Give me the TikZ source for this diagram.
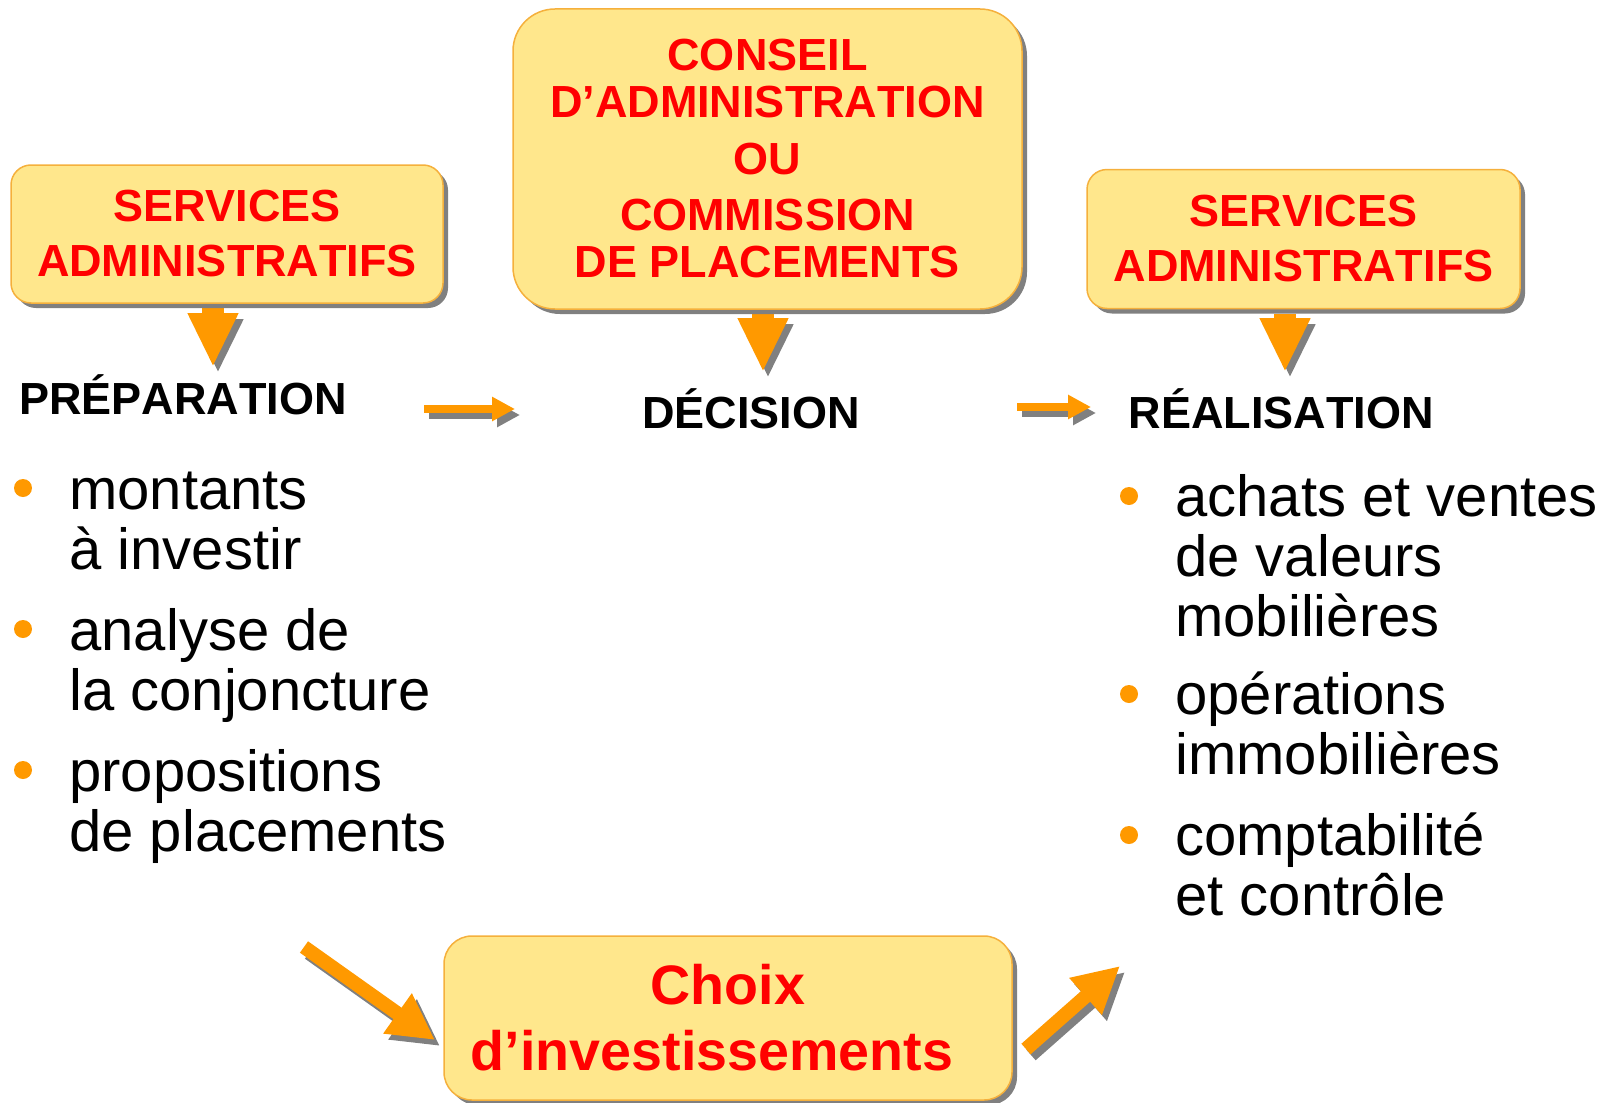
\documentclass[tikz,border=0pt]{standalone}
\usepackage{fontspec}
\setmainfont{Liberation Sans}[Kerning=Off]
\usetikzlibrary{arrows.meta,shadows}

\definecolor{boxfill}{RGB}{255,231,140}
\definecolor{boxline}{RGB}{245,176,60}
\definecolor{titlered}{RGB}{255,0,0}
\definecolor{arrowor}{RGB}{255,153,0}
\definecolor{shadowgrey}{RGB}{128,128,128}

\tikzset{
  panel/.style={draw=boxline, line width=0.75pt, fill=boxfill, text=titlered,
    align=center, inner sep=0pt,
    font=\fontsize{22.5pt}{27.5pt}\selectfont\bfseries,
    drop shadow={shadow xshift=2.5pt, shadow yshift=-2.5pt, fill=shadowgrey, opacity=1}},
  stage/.style={font=\fontsize{22.5pt}{27pt}\selectfont\bfseries, inner sep=0pt},
  itemtext/.style={font=\fontsize{29pt}{30pt}\selectfont, inner sep=0pt, anchor=base west},
  bulletdot/.style={fill=arrowor, draw=none},
  bigdown/.style={line width=11pt, -{Triangle[width=23.5pt,length=27pt]}},
  flowarrow/.style={line width=4pt, -{Triangle[width=11.5pt,length=11.5pt]}},
  slantarrow/.style={line width=7pt, -{Triangle[width=23pt,length=23pt]}},
}

% block arrow with a grey drop shadow
\newcommand\shadedarrow[3]{%
  \draw[#1, draw=shadowgrey, fill=shadowgrey, transform canvas={shift={(2.5pt,-3pt)}}] (#2) -- (#3);
  \draw[#1, draw=arrowor, fill=arrowor] (#2) -- (#3);}

\begin{document}
\begin{tikzpicture}[x=0.5pt, y=-0.5pt]
\useasboundingbox (0,0) rectangle (1620,1102);

% arrow end points
\coordinate (a1s) at (213,308);  \coordinate (a1e) at (213,367);
\coordinate (a2s) at (763,314);  \coordinate (a2e) at (763,372);
\coordinate (a3s) at (1285,314); \coordinate (a3e) at (1285,372);
\coordinate (h1s) at (424,409);  \coordinate (h1e) at (515,409);
\coordinate (h2s) at (1017,407); \coordinate (h2e) at (1091,407);
\coordinate (d1s) at (304,947);  \coordinate (d1e) at (435,1040);
\coordinate (d2s) at (1026,1049);\coordinate (d2e) at (1120,966);

\shadedarrow{bigdown}{a1s}{a1e}
\shadedarrow{bigdown}{a2s}{a2e}
\shadedarrow{bigdown}{a3s}{a3e}
\shadedarrow{flowarrow}{h1s}{h1e}
\shadedarrow{flowarrow}{h2s}{h2e}
\shadedarrow{slantarrow}{d1s}{d1e}
\shadedarrow{slantarrow}{d2s}{d2e}

% boxes
\node[panel, minimum width=216pt, minimum height=69pt, rounded corners=10pt]
  (lbox) at (227,234) {SERVICES\\ADMINISTRATIFS};
\node[panel, minimum width=254.5pt, minimum height=150pt, rounded corners=21pt,
  font=\fontsize{22.5pt}{23.5pt}\selectfont\bfseries]
  (mbox) at (767.5,159) {CONSEIL\\D’ADMINISTRATION\\[5pt]OU\\[4.5pt]COMMISSION\\DE PLACEMENTS};
\node[panel, minimum width=216.5pt, minimum height=69.5pt, rounded corners=10pt]
  (rbox) at (1303.5,239) {SERVICES\\ADMINISTRATIFS};
\node[panel, minimum width=284pt, minimum height=82pt, rounded corners=14pt,
  font=\fontsize{27.8pt}{33pt}\selectfont\bfseries]
  (bbox) at (728,1018) {Choix\\d’investissements\hspace*{16pt}};

% stage labels
\node[stage, anchor=base west] (prep) at (19,414) {PRÉPARATION};
\node[stage, anchor=base] (dec) at (751,428) {DÉCISION};
\node[stage, anchor=base] (real) at (1281,428) {RÉALISATION};

% left list
\fill[bulletdot] (23,488) circle[radius=4.5pt];
\fill[bulletdot] (23,629) circle[radius=4.5pt];
\fill[bulletdot] (23,770) circle[radius=4.5pt];
\node[itemtext] (l1a) at (69,509) {montants};
\node[itemtext] (l1b) at (69,569) {à investir};
\node[itemtext] (l2a) at (69,650) {analyse de};
\node[itemtext] (l2b) at (69,710) {la conjoncture};
\node[itemtext] (l3a) at (69,791) {propositions};
\node[itemtext] (l3b) at (69,851) {de placements};

% right list
\fill[bulletdot] (1129,496) circle[radius=4.5pt];
\fill[bulletdot] (1129,694) circle[radius=4.5pt];
\fill[bulletdot] (1129,835) circle[radius=4.5pt];
\node[itemtext] (r1a) at (1175,516) {achats et ventes};
\node[itemtext] (r1b) at (1175,576) {de valeurs};
\node[itemtext] (r1c) at (1175,636) {mobilières};
\node[itemtext] (r2a) at (1175,714) {opérations};
\node[itemtext] (r2b) at (1175,774) {immobilières};
\node[itemtext] (r3a) at (1175,855) {comptabilité};
\node[itemtext] (r3b) at (1175,915) {et contrôle};
\end{tikzpicture}
\end{document}
